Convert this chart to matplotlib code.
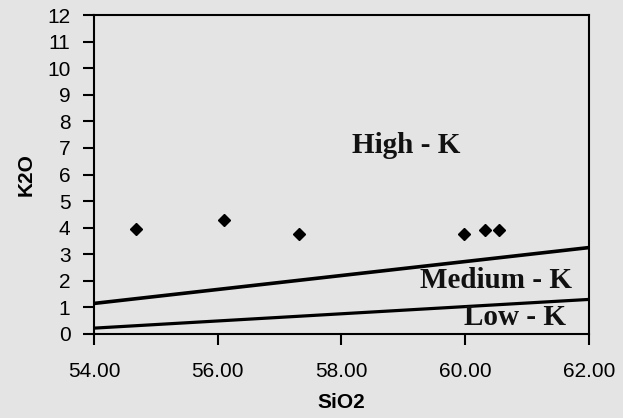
import matplotlib.pyplot as plt

# === DATA ===
sio2 = [54.68, 56.10, 57.32, 59.98, 60.32, 60.55]
k2o = [3.95, 4.30, 3.78, 3.78, 3.90, 3.90]

# boundary lines (end points)
hk_mk_x = [54.0, 62.0]
hk_mk_y = [1.15, 3.25]
mk_lk_x = [54.0, 62.0]
mk_lk_y = [0.22, 1.30]

field_labels = ["High - K", "Medium - K", "Low - K"]
field_x = [59.05, 60.5, 60.8]
field_y = [7.1, 2.0, 0.62]

bg = "#e4e4e4"

fig = plt.figure(figsize=(6.23, 4.18), dpi=100, facecolor=bg)
ax = fig.add_axes([0.151, 0.201, 0.794, 0.763], facecolor=bg)

ax.plot(hk_mk_x, hk_mk_y, color="black", lw=2.6)
ax.plot(mk_lk_x, mk_lk_y, color="black", lw=2.3)
ax.plot(sio2, k2o, linestyle="none", marker="D", ms=6, color="black")

for lab, x, y in zip(field_labels, field_x, field_y):
    ax.text(x, y, lab, ha="center", va="center", fontsize=21,
            fontweight="bold", family="Liberation Serif", color="#111111")

ax.set_xlim(54, 62)
ax.set_ylim(0, 12)
ax.set_xticks([54, 56, 58, 60, 62])
ax.set_xticklabels([f"{v:.2f}" for v in [54, 56, 58, 60, 62]])
ax.set_yticks(range(0, 13))

for s in ax.spines.values():
    s.set_linewidth(1.5)
ax.tick_params(direction="out", length=8, width=1.5, labelsize=15,
               colors="black")
ax.tick_params(axis="x", pad=12)
ax.tick_params(axis="y", pad=9)
for t in ax.get_xticklabels() + ax.get_yticklabels():
    t.set_family("Liberation Sans")

ax.set_xlabel("SiO2", fontsize=15, fontweight="bold", family="Liberation Sans", labelpad=9)
ax.set_ylabel("K2O", fontsize=15, fontweight="bold", family="Liberation Sans", labelpad=8)

fig.savefig("out.png", dpi=100, facecolor=bg)
